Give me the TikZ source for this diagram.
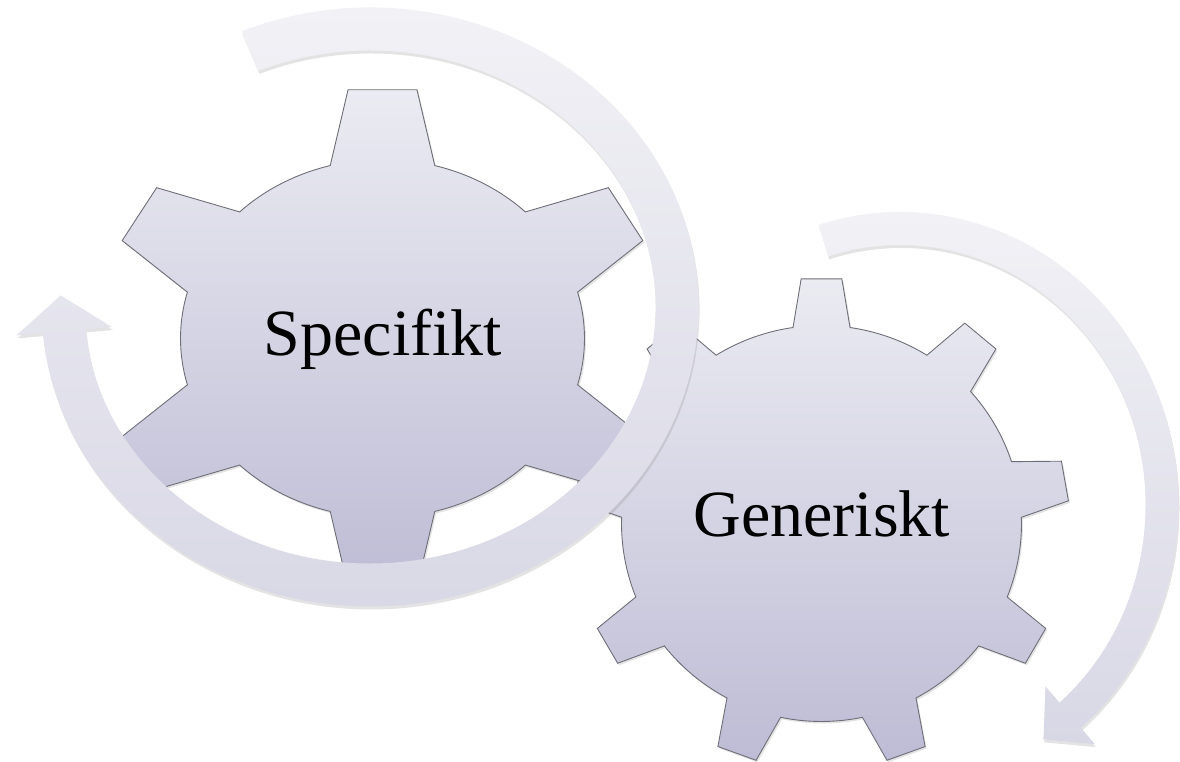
\documentclass[tikz,border=0pt]{standalone}
\usepackage{fontspec}
\setmainfont{Liberation Serif}
\usetikzlibrary{shadows}
\definecolor{geartop}{HTML}{EBEBF2}
\definecolor{gearbot}{HTML}{BEBCD5}
\definecolor{gearline}{HTML}{6E6E78}
\definecolor{bandtop}{HTML}{F3F3F7}
\definecolor{bandbot}{HTML}{D8D7E5}
\begin{document}
\begin{tikzpicture}[x=1pt,y=1pt]
\useasboundingbox (0,0) rectangle (1180,762);
\tikzset{
  gearstyle/.style={draw=gearline, line width=0.9pt, top color=geartop, bottom color=gearbot,
    drop shadow={opacity=0.22, shadow xshift=1.5pt, shadow yshift=-2pt}},
  bandstyle/.style={top color=bandtop, bottom color=bandbot,
    drop shadow={opacity=0.22, shadow xshift=1pt, shadow yshift=-3pt}},
  gearlabel/.style={font=\fontsize{66}{70}\selectfont, text=black, anchor=base}
}
% right gear (9 teeth)
\begin{scope}[shift={(821.5pt,238.5pt)}]
\begin{scope}[x={(200pt,0pt)}, y={(0pt,198pt)}]
\path[gearstyle] (81.8:1)
  \foreach \k in {0,...,8} {
    -- ({90+40*\k-4.7}:1.24) -- ({90+40*\k+4.7}:1.24) -- ({90+40*\k+8.2}:1)
    arc[start angle={90+40*\k+8.2}, end angle={90+40*\k+31.8}, radius=1]
  } -- cycle;
\end{scope}
\end{scope}
% left gear (6 teeth)
\begin{scope}[shift={(382.5pt,423.5pt)}]
\begin{scope}[x={(202pt,0pt)}, y={(0pt,179pt)}]
\path[gearstyle] (75:1)
  \foreach \k in {0,...,5} {
    -- ({90+60*\k-7}:1.4) -- ({90+60*\k+7}:1.4) -- ({90+60*\k+15}:1)
    arc[start angle={90+60*\k+15}, end angle={90+60*\k+45}, radius=1]
  } -- cycle;
\end{scope}
\end{scope}
\node[gearlabel] (spec) at (383,406) {Specifikt};
\node[gearlabel] (gen) at (822,225) {Generiskt};
% left circular arrow
\path[bandstyle] ({370+328.5*cos(113)}, {455+299.5*sin(113)})
  arc[start angle=113, end angle=-175, x radius=328.5, y radius=299.5]
  -- ({370+355*cos(-175)}, {455+326*sin(-175)})
  -- (60.7,466.6)
  -- ({370+259*cos(-175)}, {455+230*sin(-175)})
  -- ({370+285.5*cos(-175)}, {455+256.5*sin(-175)})
  arc[start angle=-175, end angle=113, x radius=285.5, y radius=256.5]
  -- cycle;
% right circular arrow
\path[bandstyle] ({900+278.5*cos(107)}, {257+293*sin(107)})
  arc[start angle=107, end angle=-49.5, x radius=278.5, y radius=293]
  -- ({900+300*cos(-49.5)}, {257+314.5*sin(-49.5)})
  -- (1043.4,22.6)
  -- ({900+224*cos(-49.5)}, {257+238.5*sin(-49.5)})
  -- ({900+245.5*cos(-49.5)}, {257+260*sin(-49.5)})
  arc[start angle=-49.5, end angle=107, x radius=245.5, y radius=260]
  -- cycle;
\end{tikzpicture}
\end{document}
